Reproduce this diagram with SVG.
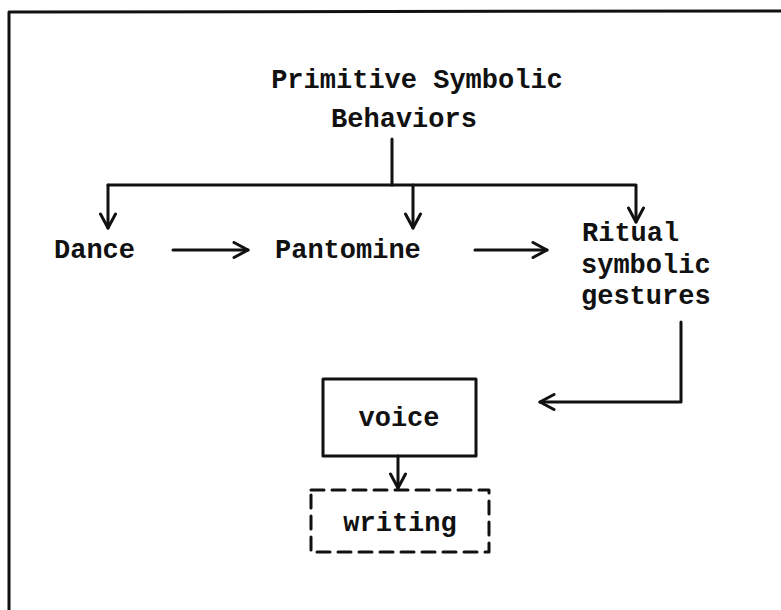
<svg xmlns="http://www.w3.org/2000/svg" width="781" height="610" viewBox="0 0 781 610">
<style>
.t{font-family:"Liberation Mono","Courier New",monospace;font-size:27px;font-weight:bold;fill:#111}
.l{fill:none;stroke:#111;stroke-width:3;stroke-linecap:round;stroke-linejoin:round}
</style>
<defs>
<marker id="ah" viewBox="0 0 18 18" refX="16" refY="9" markerWidth="18" markerHeight="18" orient="auto" markerUnits="userSpaceOnUse">
<path d="M2,1.5 L16,9 L2,16.5" fill="none" stroke="#111" stroke-width="3" stroke-linecap="round" stroke-linejoin="round"/>
</marker>
</defs>
<rect width="781" height="610" fill="#fff"/>
<g id="frame">
<path class="l" d="M9,610 L9,12 L781,11"/>
</g>
<g id="title">
<text class="t" x="417" y="88" text-anchor="middle">Primitive Symbolic</text>
<text class="t" x="404" y="127" text-anchor="middle">Behaviors</text>
</g>
<g id="dance"><text class="t" x="54" y="258">Dance</text></g>
<g id="pantomine"><text class="t" x="275" y="258">Pantomine</text></g>
<g id="ritual">
<text class="t" x="582" y="241">Ritual</text>
<text class="t" x="581" y="273">symbolic</text>
<text class="t" x="581" y="304">gestures</text>
</g>
<g id="voice">
<rect class="l" x="323" y="379" width="153" height="77"/>
<text class="t" x="399" y="426" text-anchor="middle">voice</text>
</g>
<g id="writing">
<rect class="l" x="311" y="490" width="178" height="62" stroke-dasharray="13 8"/>
<text class="t" x="400" y="531" text-anchor="middle">writing</text>
</g>
<g id="connectors">
<path class="l" d="M392,139 L392,185"/>
<path class="l" d="M108,185 L636,185 L636,222" marker-end="url(#ah)"/>
<path class="l" d="M108,185 L108,228" marker-end="url(#ah)"/>
<path class="l" d="M413,185 L413,228" marker-end="url(#ah)"/>
<path class="l" d="M173,250 L248,250" marker-end="url(#ah)"/>
<path class="l" d="M475,250 L547,250" marker-end="url(#ah)"/>
<path class="l" d="M681,322 L681,402 L540,402" marker-end="url(#ah)"/>
<path class="l" d="M398,456 L398,488" marker-end="url(#ah)"/>
</g>
</svg>
